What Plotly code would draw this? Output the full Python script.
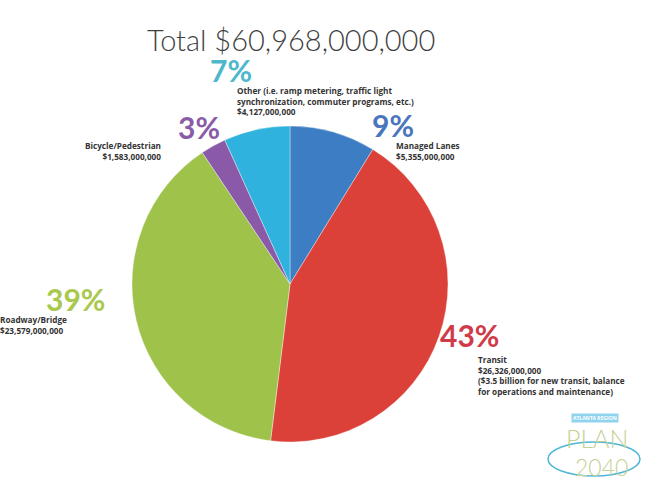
import plotly.graph_objects as go

W, H = 651, 485

categories = ["Managed Lanes", "Transit", "Roadway/Bridge", "Bicycle/Pedestrian", "Other"]
values = [5355000000, 26326000000, 23579000000, 1583000000, 4127000000]
pct_labels = ["9%", "43%", "39%", "3%", "7%"]
descriptions = [
    "Managed Lanes<br>$5,355,000,000",
    "Transit<br>$26,326,000,000<br>($3.5 billion for new transit, balance<br>for operations and maintenance)",
    "Roadway/Bridge<br>$23,579,000,000",
    "Bicycle/Pedestrian<br>$1,583,000,000",
    "Other (i.e. ramp metering, traffic light<br>synchronization, commuter programs, etc.)<br>$4,127,000,000",
]
title_text = "Total $60,968,000,000"

slice_colors = ["#3d7dc4", "#dc4139", "#9ec24a", "#8a5aa8", "#2fb3de"]
pct_colors = ["#4a76be", "#cf3b48", "#a9c84e", "#8a5ca8", "#4db8cc"]

# label positions in pixels
pct_pos = [(370, 125, "left"), (438, 335, "left"), (44, 299, "left"), (176, 127, "left"), (208, 70, "left")]
desc_pos = [(394, 151, "left"), (476, 375, "left"), (-2, 325, "left"), (163, 151, "right"), (235, 101, "left")]


def px(x, y):
    return x / W, 1 - y / H


fig = go.Figure()
fig.add_trace(go.Pie(
    labels=categories,
    values=values,
    sort=False,
    direction="clockwise",
    rotation=0,
    textinfo="none",
    hoverinfo="label+value+percent",
    marker=dict(colors=slice_colors, line=dict(color="rgba(255,255,255,0.6)", width=0.6)),
    domain=dict(x=[132 / W, 448 / W], y=[1 - 442 / H, 1 - 126 / H]),
    showlegend=False,
))

annotations = []
tx, ty = px(291, 39)
annotations.append(dict(x=tx, y=ty, text=title_text, showarrow=False, xanchor="center", yanchor="middle",
                        font=dict(family="Lato", size=29, color="#3f3f3f", weight=300)))

for i in range(len(categories)):
    x, y, anc = pct_pos[i]
    ax, ay = px(x, y)
    annotations.append(dict(x=ax, y=ay, text=pct_labels[i], showarrow=False, xanchor=anc, yanchor="middle",
                            font=dict(family="Lato", size=30, color=pct_colors[i], weight="bold")))
    x, y, anc = desc_pos[i]
    dx, dy = px(x, y)
    annotations.append(dict(x=dx, y=dy, text="<b>" + descriptions[i] + "</b>", showarrow=False,
                            xanchor=anc, yanchor="middle", align=anc,
                            font=dict(family="Open Sans", size=8.2, color="#333333")))

# logo
lx, ly = px(595, 418)
annotations.append(dict(x=lx, y=ly, text="<b>ATLANTA REGION</b>", showarrow=False, xanchor="center", yanchor="middle",
                        bgcolor="#8fd3ee", font=dict(family="Open Sans", size=5, color="#ffffff")))
lx, ly = px(597, 438)
annotations.append(dict(x=lx, y=ly, text="PLAN", showarrow=False, xanchor="center", yanchor="middle",
                        font=dict(family="Lato", size=25, color="#c3d197", weight=300)))
lx, ly = px(601, 467)
annotations.append(dict(x=lx, y=ly, text="2040", showarrow=False, xanchor="center", yanchor="middle",
                        font=dict(family="Lato", size=23, color="#c3d197", weight=300)))

x0, y0 = px(548, 476)
x1, y1 = px(640, 442)
shapes = [dict(type="circle", xref="paper", yref="paper", x0=x0, y0=y0, x1=x1, y1=y1,
               line=dict(color="#4fb6d8", width=1.5))]

fig.update_layout(
    width=W, height=H,
    margin=dict(l=0, r=0, t=0, b=0),
    paper_bgcolor="white", plot_bgcolor="white",
    annotations=annotations,
    shapes=shapes,
)

fig.write_html("out.html", config={"displayModeBar": False},
               post_script="document.body.style.margin='0';")
